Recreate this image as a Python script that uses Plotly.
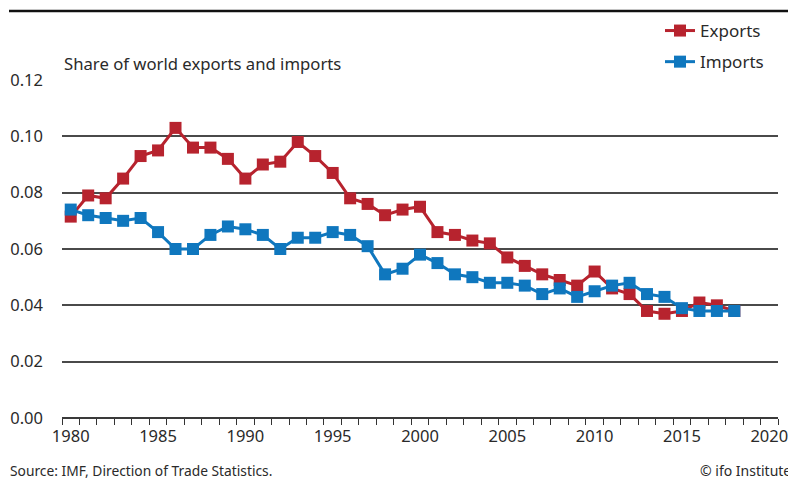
import plotly.graph_objects as go

years = list(range(1980, 2019))
exports = [0.0715, 0.079, 0.078, 0.085, 0.093, 0.095, 0.103, 0.096, 0.096, 0.092,
           0.085, 0.090, 0.091, 0.098, 0.093, 0.087, 0.078, 0.076, 0.072, 0.074,
           0.075, 0.066, 0.065, 0.063, 0.062, 0.057, 0.054, 0.051, 0.049, 0.047,
           0.052, 0.046, 0.044, 0.038, 0.037, 0.038, 0.041, 0.040, 0.038]
imports = [0.074, 0.072, 0.071, 0.070, 0.071, 0.066, 0.060, 0.060, 0.065, 0.068,
           0.067, 0.065, 0.060, 0.064, 0.064, 0.066, 0.065, 0.061, 0.051, 0.053,
           0.058, 0.055, 0.051, 0.050, 0.048, 0.048, 0.047, 0.044, 0.046, 0.043,
           0.045, 0.047, 0.048, 0.044, 0.043, 0.039, 0.038, 0.038, 0.038]
x_labels = list(range(1980, 2021, 5))

RED = "#B7232E"
BLUE = "#0F77BE"
FONT = "Noto Sans"
TXT = "#2a2a2a"

# the page body adds an 8px offset: design in screen px, then shift
OFF = 8
W, H = 796, 480
PL, PR, PT, PB = 62, 778, 80, 418  # plot area in screen px
L = PL - OFF
T = PT - OFF
R = W - (PR - OFF)
B = H - (PB - OFF)
pw = W - L - R
ph = H - T - B


def px(x):
    return (x - PL) / pw


def py(y):
    return (PB - y) / ph


fig = go.Figure()
fig.add_trace(go.Scatter(x=years, y=exports, name="Exports", mode="lines+markers",
                         legendgroup="e",
                         line=dict(color=RED, width=3),
                         marker=dict(symbol="square", size=12, color=RED)))
fig.add_trace(go.Scatter(x=years, y=imports, name="Imports", mode="lines+markers",
                         legendgroup="i",
                         line=dict(color=BLUE, width=3),
                         marker=dict(symbol="square", size=12, color=BLUE)))

fig.update_layout(
    width=W, height=H,
    margin=dict(l=L, r=R, t=T, b=B, autoexpand=False),
    paper_bgcolor="white", plot_bgcolor="white",
    font=dict(family=FONT, size=16, color=TXT),
    showlegend=True,
    legend=dict(x=px(660), y=py(13), xanchor="left", yanchor="top",
                bgcolor="rgba(0,0,0,0)", font=dict(size=17, color=TXT), itemwidth=30,
                tracegroupgap=6),
    xaxis=dict(range=[1979.5, 2020.5], tickmode="array", tickvals=x_labels,
               ticktext=[str(v) for v in x_labels], automargin=False,
               showgrid=False, zeroline=False, showline=False,
               ticks="", ticklabelstandoff=6,
               minor=dict(tick0=1979.5, dtick=1, ticks="outside", ticklen=6,
                          tickcolor="#333", tickwidth=1, showgrid=False),
               tickfont=dict(size=16.5, color=TXT)),
    yaxis=dict(range=[0, 0.12], tickmode="linear", tick0=0, dtick=0.02,
               tickformat=".2f", showgrid=True, gridcolor="#4a4a4a", gridwidth=1.5,
               zeroline=True, zerolinecolor="#3a3a3a", zerolinewidth=2, automargin=False,
               showline=False, ticks="", ticklabelstandoff=18,
               tickfont=dict(size=16.5, color=TXT)),
)

# top rule
fig.add_shape(type="line", xref="paper", yref="paper",
              x0=px(9), x1=px(800), y0=py(11), y1=py(11),
              line=dict(color="#111", width=2.5))

fig.add_annotation(text="Share of world exports and imports", xref="paper", yref="paper",
                   x=px(62), y=py(64), xanchor="left", yanchor="middle",
                   showarrow=False, font=dict(size=16.7, color=TXT))
fig.add_annotation(text="Source: IMF, Direction of Trade Statistics.", xref="paper", yref="paper",
                   x=px(8), y=py(470.5), xanchor="left", yanchor="middle",
                   showarrow=False, font=dict(size=13.8, color=TXT))
fig.add_annotation(text="© ifo Institute", xref="paper", yref="paper",
                   x=px(793), y=py(470.5), xanchor="right", yanchor="middle",
                   showarrow=False, font=dict(size=14, color=TXT))

fig.write_html("out.html")
